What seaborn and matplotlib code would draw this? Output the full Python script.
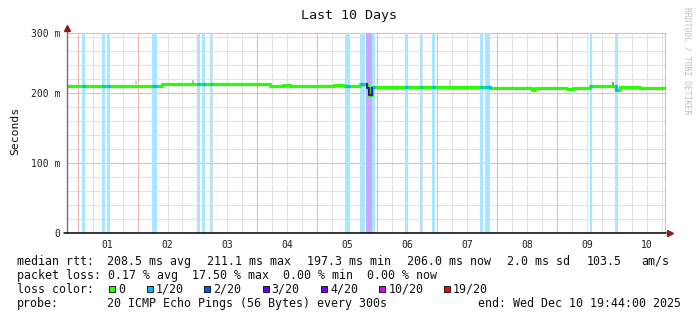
import matplotlib
matplotlib.use("Agg")
import matplotlib.pyplot as plt
from matplotlib.patches import Rectangle
import numpy as np
import pandas as pd
import seaborn as sns

# ---------------- data ----------------
# time axis: days since window start (Sun Nov 30 19:44 2025), 10-day window
day_labels = ["01", "02", "03", "04", "05", "06", "07", "08", "09", "10"]
first_midnight = 0.1778          # Dec 01 00:00 in window days

# median rtt (ms), step function breakpoints
med_t = [0.000, 1.419, 1.586, 3.389, 3.606, 3.723, 4.457, 4.624, 4.891, 5.000,
         5.045, 5.085, 6.895, 7.062, 7.763, 7.813, 8.347, 8.447, 8.731, 9.165,
         9.232, 9.566, 10.0]
med_ms = [210.4, 210.4, 212.6, 210.4, 211.9, 209.4, 211.9, 210.4, 212.3, 207.5,
          197.3, 208.0, 208.3, 206.6, 204.7, 207.1, 205.7, 207.1, 209.4, 203.7,
          209.0, 206.6, 206.6]

# loss periods (start, end in window days) and lost pings out of 20
loss_start = [0.250, 0.584, 0.668, 1.419, 2.170, 2.254, 2.387, 4.641, 4.891, 4.992,
              5.092, 5.643, 5.893, 6.093, 6.895, 6.978, 8.731, 9.149]
loss_end = [0.300, 0.634, 0.718, 1.503, 2.220, 2.304, 2.420, 4.725, 4.975, 5.092,
            5.142, 5.688, 5.932, 6.148, 6.940, 7.062, 8.770, 9.194]
loss_level = [1, 1, 1, 1, 1, 1, 1, 1, 1, 3, 1, 1, 1, 1, 1, 1, 1, 1]

# smoke (min..max spread) spots
smoke_t = [1.152, 2.104, 6.394, 9.115]
smoke_lo = [213.3, 213.3, 210.4, 210.4]
smoke_hi = [217.6, 219.0, 219.0, 216.0]
smoke_col = ["#c8c8c8", "#b8b8b8", "#d4d4d4", "#8a8a8a"]

legend_levels = [0, 1, 2, 3, 4, 10, 19]
legend_labels = ["0", "1/20", "2/20", "3/20", "4/20", "10/20", "19/20"]
loss_colors = {0: "#26ff00", 1: "#00b8ff", 2: "#0059ff", 3: "#5e00ff",
               4: "#7e00ff", 10: "#dd00ff", 19: "#ff0000"}

title = "Last 10 Days"
ylabel = "Seconds"
stat1_parts = ["median rtt:", "208.5 ms avg", "211.1 ms max", "197.3 ms min",
               "206.0 ms now", "2.0 ms sd", "103.5", "am/s"]
stat2 = "packet loss: 0.17 % avg  17.50 % max  0.00 % min  0.00 % now"
stat4_parts = ["probe:", "20 ICMP Echo Pings (56 Bytes) every 300s",
               "end: Wed Dec 10 19:44:00 2025"]

# ---------------- figure ----------------
sns.set_theme(style="white")
plt.rcParams["font.family"] = ["DejaVu Sans Mono", "DejaVu Sans"]

W, H = 697, 321
fig = plt.figure(figsize=(W / 100, H / 100), dpi=100)
fig.patch.set_facecolor("white")
L, R, T, B = 67, 666, 33, 233
ax = fig.add_axes([L / W, 1 - B / H, (R - L) / W, (B - T) / H])
ax.set_facecolor("white")
YTOP = 285.7
ax.set_xlim(0, 10)
ax.set_ylim(0, YTOP)
for s in ax.spines.values():
    s.set_visible(False)

# grid
GRID = "#e2e2e2"
MGRID = "#f3b4b4"
midnights = [first_midnight + k for k in range(10)]
for k in range(10):
    for q in (1, 2, 3):
        x = midnights[k] + q * 0.25
        if x < 10:
            ax.axvline(x, color=GRID, lw=0.8, zorder=0)
for x in midnights:
    ax.axvline(x, color=MGRID, lw=0.8, zorder=0.5)
ax.axvline(9.985, color=MGRID, lw=0.8, zorder=0.5)
for y in range(20, 281, 20):
    if y % 100:
        ax.axhline(y, color=GRID, lw=0.8, zorder=0)
for y in (100, 200, YTOP):
    ax.axhline(y, color=MGRID, lw=0.8, zorder=0.5, clip_on=False)

# loss background bars
def blend(hexcol, a=0.34):
    r, g, b = matplotlib.colors.to_rgb(hexcol)
    return (1 - a + a * r, 1 - a + a * g, 1 - a + a * b)

loss_df = pd.DataFrame({"start": loss_start, "end": loss_end, "level": loss_level})
ax.bar(loss_df["start"], YTOP, width=loss_df["end"] - loss_df["start"], align="edge",
       color=[blend(loss_colors[l]) for l in loss_df["level"]], edgecolor="none",
       zorder=1)

# smoke
ax.bar(smoke_t, np.array(smoke_hi) - np.array(smoke_lo), bottom=smoke_lo, width=0.04,
       color=smoke_col, edgecolor="none", zorder=2)

# median line (green = no loss)
med_df = pd.DataFrame({"t": med_t, "ms": med_ms})
sns.lineplot(data=med_df, x="t", y="ms", ax=ax, estimator=None, sort=False,
             drawstyle="steps-post", color=loss_colors[0], lw=2.3, zorder=3)

# coloured segments where loss occurred
med_t_arr = np.array(med_t)
med_ms_arr = np.array(med_ms)
def val_at(t):
    i = np.searchsorted(med_t_arr, t, side="right") - 1
    return med_ms_arr[max(i, 0)]

for a, b, lv in zip(loss_start, loss_end, loss_level):
    ts = [a] + [t for t in med_t if a < t < b] + [b]
    vs = [val_at(t) for t in ts]
    if lv < 3:
        ax.plot(ts, vs, drawstyle="steps-post", color=loss_colors[lv], lw=2.3, zorder=4,
                solid_capstyle="butt")
    else:
        ax.plot(ts, vs, drawstyle="steps-post", color="#1c1040", lw=1.4, zorder=4,
                solid_capstyle="butt")
        ax.plot(ts, vs, drawstyle="steps-post", color=loss_colors[lv], lw=0.8, zorder=4.5,
                solid_capstyle="butt")

# ticks
ax.set_xticks([first_midnight + k + 0.5 for k in range(10)], day_labels)
ax.set_yticks([0, 100, 200, YTOP], ["0", "100 m", "200 m", "300 m"])
ax.tick_params(axis="both", length=0, labelsize=7, colors="#202020")
ax.tick_params(axis="x", pad=5)
ax.tick_params(axis="y", pad=5)
ax.set_xlabel("")
ax.set_ylabel("")
ax.set_xticks(midnights, minor=True)
ax.tick_params(axis="x", which="minor", length=3, width=0.6, color="#b0b0b0", direction="out")

# axes lines and arrows
ax.plot([0, 0], [0, 1.02], transform=ax.transAxes, color="#707070", lw=1, clip_on=False, zorder=6)
ax.plot([-0.005, 1.0], [0, 0], transform=ax.transAxes, color="black", lw=1.1, clip_on=False, zorder=6)
ax.plot([0], [1.025], marker="^", ms=4.5, color="#8b1a1a", transform=ax.transAxes, clip_on=False, zorder=7)
ax.plot([1.007], [0], marker=">", ms=4.5, color="#8b1a1a", transform=ax.transAxes, clip_on=False, zorder=7)

# ---------------- texts ----------------
def fx(x, y):
    return (x / W, 1 - y / H)

fig.text(*fx(349, 16), title, ha="center", va="center", fontsize=9.6, color="#101010")
fig.text(*fx(15, 131), ylabel, ha="center", va="center", rotation=90, fontsize=8.2, color="#101010")
fig.text(*fx(686.5, 61), "RRDTOOL / TOBI OETIKER", ha="center", va="center", rotation=-90,
         fontsize=5.8, color="#bdbdbd")

FS = 8.38
LX = 16.7
TXT = "#101010"
stat1_x = [16.7, 106.7, 206.7, 306.7, 406.7, 506.7, 586.7, 641.7]
for x0, s in zip(stat1_x, stat1_parts):
    fig.text(*fx(x0, 261.5), s, ha="left", va="center", fontsize=FS, color=TXT)
fig.text(*fx(LX, 275.5), stat2, ha="left", va="center", fontsize=FS, color=TXT)
fig.text(*fx(LX, 289.3), "loss color:", ha="left", va="center", fontsize=FS, color=TXT)
sw_x = [109.3, 147.0, 204.3, 262.7, 321.0, 379.3, 444.0]
for x0, lv, lab in zip(sw_x, legend_levels, legend_labels):
    fig.patches.append(Rectangle((x0 / W, 1 - 292.3 / H), 6 / W, 6 / H, transform=fig.transFigure,
                                 facecolor=loss_colors[lv], edgecolor="black", lw=0.6))
    fig.text(*fx(x0 + 9, 289.3), lab, ha="left", va="center", fontsize=FS, color=TXT)
stat4_x = [16.7, 106.7, 478.3]
for x0, s in zip(stat4_x, stat4_parts):
    fig.text(*fx(x0, 303.3), s, ha="left", va="center", fontsize=FS, color=TXT)

fig.savefig("out.png", dpi=100, facecolor="white")
